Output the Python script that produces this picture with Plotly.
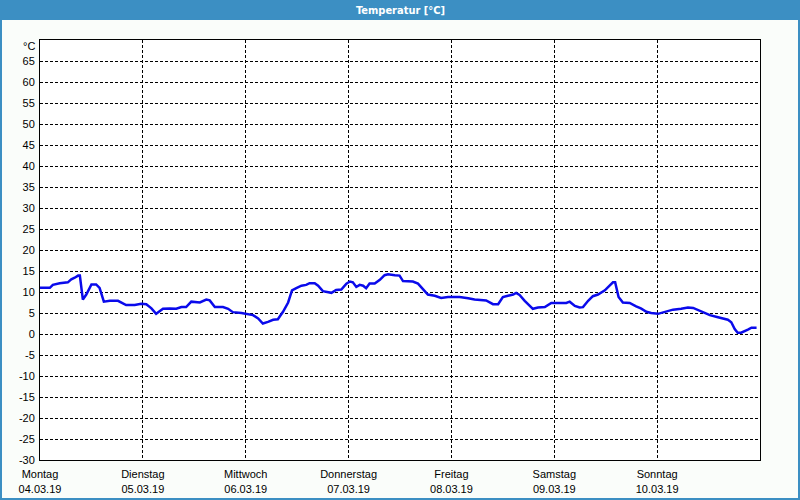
import plotly.graph_objects as go

# ---- data ----
hours = [0.0, 2.3, 3.0, 4.6, 6.5, 7.3, 8.1, 8.9, 9.3, 10.0, 10.8, 12.0, 13.1, 13.9, 14.9, 16.3, 18.2,
         20.1, 22.1, 23.6, 24.8, 26.0, 27.1, 28.7, 30.3, 31.8, 33.0, 34.1, 35.3, 37.3, 38.8, 39.6,
         40.8, 41.9, 42.7, 43.9, 45.0, 47.0, 48.5, 49.7, 50.9, 52.0, 53.2, 54.4, 55.5, 56.7, 57.9,
         58.8, 59.8, 61.0, 62.1, 62.9, 64.1, 64.9, 66.0, 67.2, 68.0, 69.1, 70.3, 71.5, 72.3, 73.0,
         73.8, 74.6, 75.4, 76.1, 76.9, 78.1, 79.3, 80.4, 81.2, 82.8, 83.9, 84.7, 87.0, 88.2, 89.4,
         90.5, 92.1, 93.6, 95.2, 97.9, 99.9, 101.4, 104.1, 105.7, 106.9, 108.0, 109.2, 110.4, 111.1,
         111.9, 113.1, 115.0, 116.2, 117.8, 119.3, 120.9, 122.8, 123.6, 124.8, 125.9, 126.7, 127.9,
         129.0, 130.2, 131.8, 132.9, 133.7, 134.2, 135.0, 136.0, 137.6, 139.1, 140.2, 141.5, 142.6,
         144.2, 145.8, 147.7, 149.6, 151.2, 152.4, 154.3, 156.3, 158.2, 160.5, 161.3, 162.1, 162.8,
         163.6, 165.3, 166.0, 167.2]
temps = [11.0, 11.0, 11.7, 12.1, 12.3, 13.0, 13.4, 13.9, 13.9, 8.2, 9.4, 11.8, 11.8, 11.0, 7.7, 7.9, 7.9,
         6.9, 6.9, 7.2, 7.1, 6.1, 4.8, 6.0, 6.1, 6.0, 6.4, 6.4, 7.7, 7.5, 8.2, 8.0,
         6.4, 6.3, 6.4, 6.0, 5.2, 5.0, 4.8, 4.5, 3.7, 2.5, 2.9, 3.4, 3.5, 5.3, 7.5,
         10.4, 10.9, 11.5, 11.7, 12.1, 12.1, 11.5, 10.2, 10.0, 9.8, 10.5, 10.6, 12.0, 12.5, 12.3,
         11.2, 11.7, 11.5, 10.9, 12.0, 12.0, 12.9, 14.0, 14.2, 14.0, 13.9, 12.6, 12.5, 12.0, 10.7,
         9.4, 9.1, 8.6, 8.8, 8.8, 8.5, 8.2, 8.0, 7.1, 7.1, 8.8, 9.1, 9.4, 9.8,
         9.3, 7.9, 6.0, 6.3, 6.4, 7.4, 7.4, 7.4, 7.7, 6.7, 6.3, 6.4, 7.9,
         9.0, 9.4, 10.4, 11.5, 12.3, 12.3, 8.8, 7.5, 7.4, 6.6, 6.1, 5.3, 5.0,
         4.8, 5.3, 5.8, 6.0, 6.3, 6.2, 5.3, 4.5, 4.0, 3.4, 2.8, 1.2, 0.3,
         0.3, 1.1, 1.5, 1.5]

day_names = ["Montag", "Dienstag", "Mittwoch", "Donnerstag", "Freitag", "Samstag", "Sonntag"]
day_dates = ["04.03.19", "05.03.19", "06.03.19", "07.03.19", "08.03.19", "09.03.19", "10.03.19"]
day_hours = [0, 24, 48, 72, 96, 120, 144]
y_ticks = list(range(-30, 70, 5))
title_text = "Temperatur [°C]"
unit_text = "°C"

# ---- layout constants ----
W, H = 800, 500
ML, MR, MT, MB = 40, 40, 40, 40
PW, PH = W - ML - MR, H - MT - MB
BLUE = "#3c8fc3"
FONT = "Liberation Sans"

def px_x(p):
    return (p - ML) / PW

def px_y(p):
    return (H - MB - p) / PH

fig = go.Figure()
fig.add_trace(go.Scatter(x=hours, y=temps, mode="lines",
                         line=dict(color="#0a0aeb", width=2.5), hoverinfo="skip"))

fig.update_layout(
    width=W, height=H,
    margin=dict(l=ML, r=MR, t=MT, b=MB, autoexpand=False),
    paper_bgcolor="#fafdfa", plot_bgcolor="#ffffff",
    showlegend=False,
    font=dict(family=FONT, size=11, color="#000000"),
    xaxis=dict(range=[0, 168], tickmode="array", tickvals=day_hours,
               ticktext=[f"{n}<br>{d}" for n, d in zip(day_names, day_dates)],
               showgrid=True, gridcolor="#000000", gridwidth=1, griddash="3px,2px",
               showline=True, linecolor="#000000", linewidth=1, mirror=True,
               zeroline=False, ticks="", ticklabelstandoff=4, automargin=False,
               fixedrange=True),
    yaxis=dict(range=[-30, 70], tickmode="array", tickvals=y_ticks,
               ticktext=[str(v) for v in y_ticks],
               showgrid=True, gridcolor="#000000", gridwidth=1, griddash="3px,2px",
               showline=True, linecolor="#000000", linewidth=1, mirror=True,
               zeroline=False, ticks="", ticklabelstandoff=2, automargin=False,
               fixedrange=True),
    shapes=[
        dict(type="rect", xref="paper", yref="paper",
             x0=px_x(0), x1=px_x(W), y0=px_y(20), y1=px_y(0),
             fillcolor=BLUE, line=dict(width=0), layer="below"),
        dict(type="rect", xref="paper", yref="paper",
             x0=px_x(1), x1=px_x(W - 1), y0=px_y(H - 1), y1=px_y(19),
             fillcolor="rgba(0,0,0,0)", line=dict(color=BLUE, width=2), layer="below"),
    ],
    annotations=[
        dict(text=f"<b>{title_text}</b>", xref="paper", yref="paper",
             x=px_x(W / 2), y=px_y(10), xanchor="center", yanchor="middle",
             showarrow=False,
             font=dict(family="DejaVu Sans Condensed, Roboto, Liberation Sans", size=11,
                       color="#ffffff")),
        dict(text=unit_text, xref="paper", yref="paper",
             x=px_x(37), y=px_y(46), xanchor="right", yanchor="middle",
             showarrow=False, font=dict(family=FONT, size=11, color="#000000")),
    ],
)

fig.write_html("out.html")
